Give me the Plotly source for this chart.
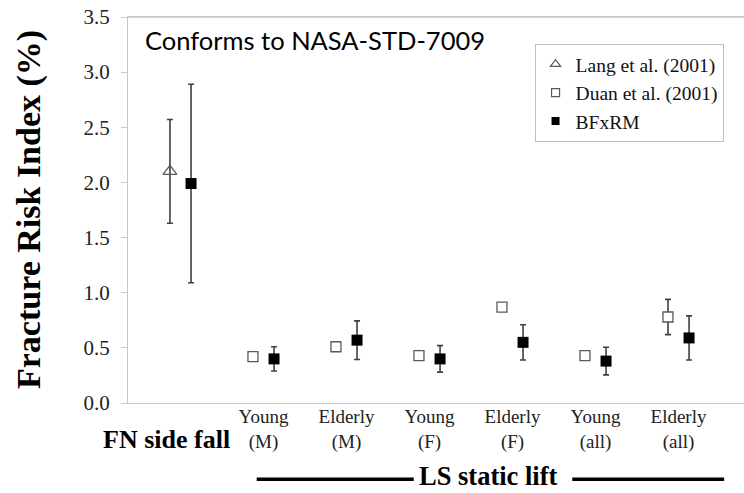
import plotly.graph_objects as go

# ---- data ----
categories = ["FN side fall", "Young<br>(M)", "Elderly<br>(M)", "Young<br>(F)",
              "Elderly<br>(F)", "Young<br>(all)", "Elderly<br>(all)"]
cat_idx = list(range(len(categories)))

lang_idx = [0]
lang_vals = [2.10]
lang_err = [0.47]

duan_idx = [1, 2, 3, 4, 5, 6]
duan_vals = [0.42, 0.51, 0.43, 0.87, 0.43, 0.78]
duan_err = [0, 0, 0, 0, 0, 0.16]

bfx_idx = [0, 1, 2, 3, 4, 5, 6]
bfx_vals = [1.99, 0.40, 0.57, 0.40, 0.55, 0.38, 0.59]
bfx_err = [0.90, 0.11, 0.175, 0.12, 0.16, 0.125, 0.20]

y_ticks = [0.0, 0.5, 1.0, 1.5, 2.0, 2.5, 3.0, 3.5]
group_label = "LS static lift"
group_span = [1, 6]

SERIF = "Liberation Serif, Times New Roman, serif"
OFF = 0.127
ERRC = "#404040"
OPENC = "#5a5a5a"

fig = go.Figure()

fig.add_trace(go.Scatter(
    x=[i - OFF for i in lang_idx], y=lang_vals, mode="markers", showlegend=False,
    marker=dict(symbol="triangle-up-open", size=12, color=OPENC, line=dict(width=1.3, color=OPENC)),
    error_y=dict(type="data", array=lang_err, color=ERRC, thickness=1.6, width=3),
))
fig.add_trace(go.Scatter(
    x=[i - OFF for i in duan_idx], y=duan_vals, mode="markers", showlegend=False,
    marker=dict(symbol="square", size=10, color="white", line=dict(width=1.3, color=OPENC)),
    error_y=dict(type="data", array=duan_err, color=ERRC, thickness=1.6, width=3),
))
fig.add_trace(go.Scatter(
    x=[i + OFF for i in bfx_idx], y=bfx_vals, mode="markers", showlegend=False,
    marker=dict(symbol="square", size=11, color="black", line=dict(width=0)),
    error_y=dict(type="data", array=bfx_err, color=ERRC, thickness=1.6, width=3),
))

# legend proxies
fig.add_trace(go.Scatter(x=[None], y=[None], mode="markers", name="Lang et al. (2001)",
                         marker=dict(symbol="triangle-up-open", size=9, color=OPENC, line=dict(width=1.2, color=OPENC))))
fig.add_trace(go.Scatter(x=[None], y=[None], mode="markers", name="Duan et al. (2001)",
                         marker=dict(symbol="square", size=8, color="white", line=dict(width=1.2, color=OPENC))))
fig.add_trace(go.Scatter(x=[None], y=[None], mode="markers", name="BFxRM",
                         marker=dict(symbol="square", size=8, color="black", line=dict(width=0))))

fig.update_layout(
    width=744, height=493,
    margin=dict(l=128, r=0, t=17, b=90, autoexpand=False),
    paper_bgcolor="white", plot_bgcolor="white",
    showlegend=True,
    legend=dict(x=0.66, y=0.93, xanchor="left", yanchor="top",
                bordercolor="#bfbfbf", borderwidth=1, bgcolor="white",
                font=dict(family=SERIF, size=19.5, color="#111"),
                tracegroupgap=0, itemsizing="trace"),
    xaxis=dict(range=[-0.6325, 6.789], showgrid=False, zeroline=False,
               showline=True, linecolor="#c8c8c8", linewidth=1.3, mirror=True,
               ticks="", tickvals=cat_idx[1:], ticktext=categories[1:],
               tickfont=dict(family=SERIF, size=19, color="#222"),
               ticklabelstandoff=-4, ticklabeloverflow="allow", automargin=False),
    yaxis=dict(range=[0, 3.5], showgrid=False, zeroline=False,
               showline=True, linecolor="#c8c8c8", linewidth=1.3,
               ticks="outside", ticklen=6, tickcolor="#c8c8c8",
               tickvals=y_ticks, tickformat=".1f",
               tickfont=dict(family=SERIF, size=21, color="#222"),
               ticklabelstandoff=7, ticklabeloverflow="allow", automargin=False),
)

# top border of plot area
fig.add_shape(type="line", xref="paper", yref="paper", x0=0, x1=1, y0=1, y1=1,
              line=dict(color="#c8c8c8", width=1.3))

# y-axis title
fig.add_annotation(text="<b>Fracture Risk Index (%)</b>", textangle=-90,
                   xref="paper", yref="paper", x=-0.1607, y=0.5,
                   xanchor="center", yanchor="middle", showarrow=False,
                   font=dict(family=SERIF, size=34, color="black"))
# FN side fall label
fig.add_annotation(text="<b>" + categories[0] + "</b>", xref="x", yref="paper",
                   x=cat_idx[0], y=-0.0933, xshift=-14, xanchor="center", yanchor="middle",
                   showarrow=False, font=dict(family=SERIF, size=26, color="black"))
# group label
mid = (group_span[0] + group_span[1]) / 2
fig.add_annotation(text="<b>" + group_label + "</b>", xref="x", yref="paper",
                   x=mid, xshift=17, y=-0.1995, yshift=4, xanchor="center", yanchor="middle",
                   showarrow=False, font=dict(family=SERIF, size=26.5, color="black"))
fig.add_shape(type="line", xref="x", yref="paper", x0=group_span[0] - 0.082, x1=mid - 0.69,
              y0=-0.1975, y1=-0.1975, line=dict(color="black", width=3.5))
fig.add_shape(type="line", xref="x", yref="paper", x0=mid + 1.22, x1=group_span[1] + 0.55,
              y0=-0.1975, y1=-0.1975, line=dict(color="black", width=3.5))

# note
fig.add_annotation(text="Conforms to NASA-STD-7009", xref="paper", yref="paper",
                   x=0.0244, y=0.9404, xanchor="left", yanchor="middle", showarrow=False,
                   font=dict(family="Lato, Carlito, Calibri, sans-serif", size=25.5, color="black"))

fig.write_html("out.html", config={"displayModeBar": False},
               post_script="document.body.style.margin='0';document.body.style.overflow='hidden';")
